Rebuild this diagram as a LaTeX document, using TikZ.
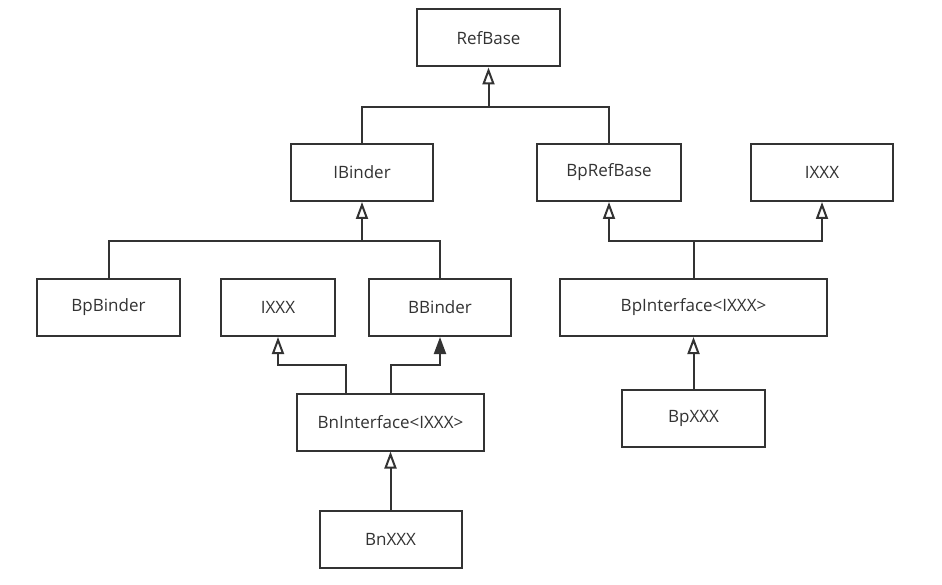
\documentclass[tikz,border=0pt]{standalone}
\usepackage{fontspec}
\setmainfont{Open Sans}
\definecolor{ink}{RGB}{51,51,51}
\usetikzlibrary{arrows.meta, positioning}
\tikzset{
  cls/.style={rectangle, draw=ink, fill=white, line width=2pt,
    minimum height=57pt, minimum width=142pt, align=center,
    text=ink, font=\fontsize{17}{20}\selectfont},
  link/.style={draw=ink, line width=2pt},
  inherit/.style={link, -{Triangle[open, fill=white, length=17pt, width=12pt]}},
  realize/.style={link, -{Triangle[fill=ink, length=17pt, width=12pt]}},
}
\begin{document}
\begin{tikzpicture}[x=1pt, y=-1pt]
  \useasboundingbox (0,0) rectangle (942,585);
  % top
  \node[cls, minimum width=143pt] (refbase) at (488.5,38) {RefBase};
  % first row
  \node[cls] (ibinder) at (362,172.5) {IBinder};
  \node[cls, minimum width=144pt, right=102pt of ibinder] (bprefbase) {BpRefBase};
  \node[cls, right=68pt of bprefbase] (ixxxr) {IXXX};
  % second row
  \node[cls, minimum width=143pt] (bpbinder) at (108.5,307.5) {BpBinder};
  \node[cls, minimum width=114pt, right=39pt of bpbinder] (ixxxl) {IXXX};
  \node[cls, right=32pt of ixxxl] (bbinder) {BBinder};
  \node[cls, minimum width=267pt, right=47pt of bbinder] (bpinterface) {BpInterface<IXXX>};
  % third row
  \node[cls, minimum width=187pt] (bninterface) at (390.5,422) {BnInterface<IXXX>};
  \node[cls, minimum width=143pt, below=52pt of bpinterface] (bpxxx) {BpXXX};
  \node[cls, below=58pt of bninterface] (bnxxx) {BnXXX};

  % junctions
  \coordinate (j1) at (488.5,107);
  \coordinate (j2) at (362,241);
  \coordinate (j3) at (bpinterface.north |- j2);
  \coordinate (b1) at (346,365);
  \coordinate (b2) at (0,365);

  \draw[link] (ibinder.north) |- (j1) -| (bprefbase.north);
  \draw[inherit] (j1) -- (refbase.south);

  \draw[link] (bpbinder.north) |- (j2) -| (bbinder.north);
  \draw[inherit] (j2) -- (ibinder.south);

  \draw[link] (bpinterface.north) -- (j3);
  \draw[inherit] (j3) -| (bprefbase.south);
  \draw[inherit] (j3) -| (ixxxr.south);

  \draw[inherit] (bninterface.north -| b1) -- (b1) -| (ixxxl.south);
  \draw[realize] (bninterface.north) |- (bbinder.south |- b2) -- (bbinder.south);

  \draw[inherit] (bpxxx) -- (bpinterface);
  \draw[inherit] (bnxxx) -- (bninterface);
\end{tikzpicture}
\end{document}
